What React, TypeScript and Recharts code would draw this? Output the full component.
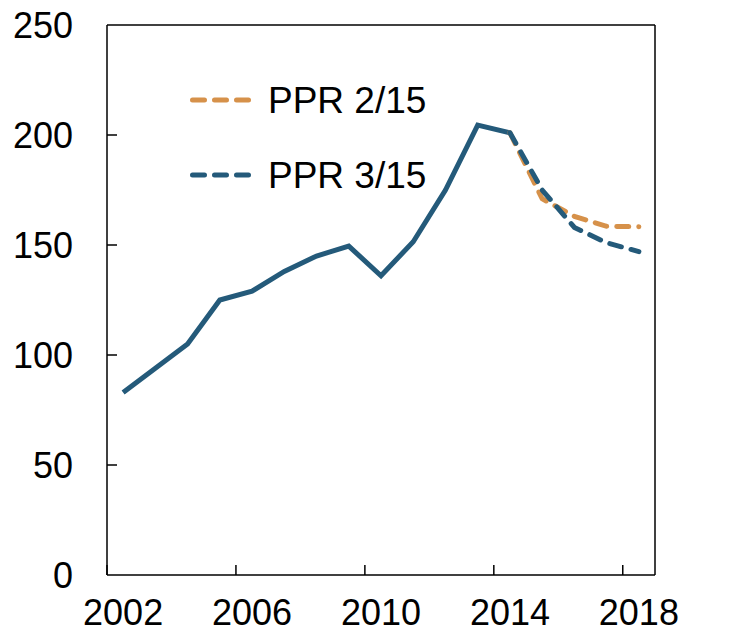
import { Line, LineChart, ReferenceLine, XAxis, YAxis } from "recharts"

const years = [2002, 2003, 2004, 2005, 2006, 2007, 2008, 2009, 2010, 2011, 2012, 2013, 2014, 2015, 2016, 2017, 2018]
const history = [83, 94, 105, 125, 129, 138, 145, 149.5, 136, 151.5, 175, 204.5, 201]
const ppr215 = [201, 171, 163, 158.5, 158.3]
const ppr315 = [201, 175, 158, 151, 147]
const yTicks = [0, 50, 100, 150, 200, 250]
const xTicks = [2002, 2006, 2010, 2014, 2018]

const BLUE = "#245A7A"
const ORANGE = "#D6914A"

const legendItems = [
    { name: "PPR 2/15", color: ORANGE },
    { name: "PPR 3/15", color: BLUE },
]

const FONT = "'Liberation Sans', Arial, sans-serif"
const FS = 36
const PLOT_W = 548

// forecasts start at the last history year
const startIdx = history.length - 1
const data = years.map((year, i) => ({
    year,
    hist: i < history.length ? history[i] : null,
    p215: i >= startIdx ? ppr215[i - startIdx] : null,
    p315: i >= startIdx ? ppr315[i - startIdx] : null,
}))

const XTick = (props: any) => {
    const { x, y, payload } = props
    const half = PLOT_W / years.length / 2
    return (
        <g>
            <line x1={x - half} x2={x - half} y1={y} y2={y - 10} stroke="#000" strokeWidth={1.5} />
            <text x={x} y={y + 50} textAnchor="middle" fontSize={FS} fontFamily={FONT} fill="#000">
                {payload.value}
            </text>
        </g>
    )
}

const LeftTick = (props: any) => {
    const { x, y, payload } = props
    const inner = payload.value > 0 && payload.value < 250
    return (
        <g>
            {inner && <line x1={x} x2={x + 10} y1={y} y2={y} stroke="#000" strokeWidth={1.5} />}
            <text x={x - 34} y={y} dy="0.36em" textAnchor="end" fontSize={FS} fontFamily={FONT} fill="#000">
                {payload.value}
            </text>
        </g>
    )
}

const RightTick = (props: any) => {
    const { x, y, payload } = props
    const inner = payload.value > 0 && payload.value < 250
    return (
        <g>
            {inner && <line x1={x} x2={x - 10} y1={y} y2={y} stroke="#000" strokeWidth={1.5} />}
            <text x={x + 33} y={y} dy="0.36em" textAnchor="start" fontSize={FS} fontFamily={FONT} fill="#000">
                {payload.value}
            </text>
        </g>
    )
}

const LegendBox = () => (
    <svg width={280} height={120} style={{ position: "absolute", left: 188, top: 80 }}>
        {legendItems.map((item, i) => (
            <g key={item.name} transform={`translate(0, ${20 + i * 75})`}>
                <line
                    x1={4.5}
                    x2={64.5}
                    y1={0}
                    y2={0}
                    stroke={item.color}
                    strokeWidth={5}
                    strokeDasharray="12 10"
                    strokeLinecap="round"
                />
                <text x={80} y={0} dy="0.36em" fontSize={37} fontFamily={FONT} fill="#000">
                    {item.name}
                </text>
            </g>
        ))}
    </svg>
)

export default function App() {
    return (
        <div style={{ position: "absolute", left: 0, top: 0, width: 755, height: 634, background: "#fff" }}>
            <LineChart width={755} height={634} data={data} margin={{ top: 25, right: 0, bottom: 0, left: 0 }}>
                <XAxis
                    dataKey="year"
                    type="number"
                    domain={[2001.5, 2018.5]}
                    ticks={xTicks}
                    tick={<XTick />}
                    tickSize={0}
                    tickMargin={0}
                    tickLine={false}
                    height={59}
                    stroke="#000"
                    strokeWidth={1.5}
                    interval={0}
                />
                <YAxis
                    yAxisId="left"
                    domain={[0, 250]}
                    ticks={yTicks}
                    tick={<LeftTick />}
                    tickSize={0}
                    tickMargin={0}
                    tickLine={false}
                    width={107}
                    stroke="#000"
                    strokeWidth={1.5}
                    interval={0}
                />
                <YAxis
                    yAxisId="right"
                    orientation="right"
                    domain={[0, 250]}
                    ticks={yTicks}
                    tick={<RightTick />}
                    tickSize={0}
                    tickMargin={0}
                    tickLine={false}
                    width={100}
                    stroke="#000"
                    strokeWidth={1.5}
                    interval={0}
                />
                <ReferenceLine yAxisId="left" y={250} stroke="#000" strokeWidth={1.5} />
                <Line
                    yAxisId="left"
                    dataKey="hist"
                    stroke={BLUE}
                    strokeWidth={5}
                    dot={false}
                    isAnimationActive={false}
                />
                <Line
                    yAxisId="left"
                    dataKey="p215"
                    stroke={ORANGE}
                    strokeWidth={5}
                    strokeDasharray="12 10"
                    strokeLinecap="round"
                    dot={false}
                    isAnimationActive={false}
                />
                <Line
                    yAxisId="left"
                    dataKey="p315"
                    stroke={BLUE}
                    strokeWidth={5}
                    strokeDasharray="12 10"
                    strokeLinecap="round"
                    dot={false}
                    isAnimationActive={false}
                />
            </LineChart>
            <LegendBox />
        </div>
    )
}
